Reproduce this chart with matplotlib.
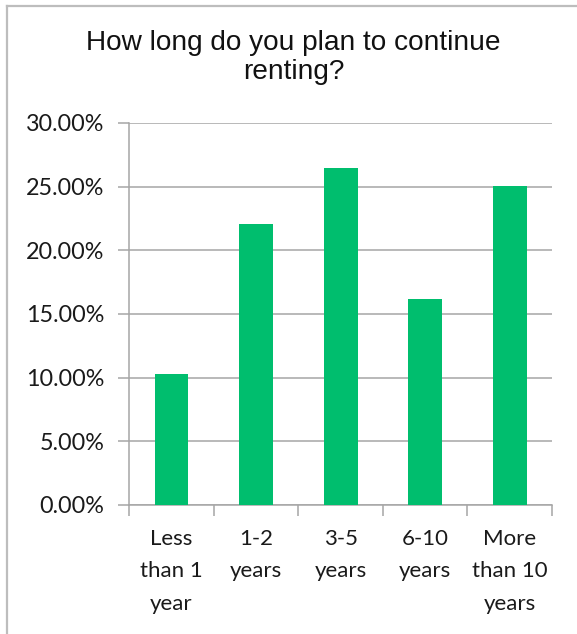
import numpy as np
import matplotlib.pyplot as plt
from matplotlib.lines import Line2D
from matplotlib.ticker import FuncFormatter, MultipleLocator

# survey answers: share of renters per planned renting period
categories = ['Less\nthan 1\nyear', '1-2\nyears', '3-5\nyears', '6-10\nyears', 'More\nthan 10\nyears']
shares = [10.27, 22.07, 26.49, 16.15, 25.03]

bar_color = '#00BE6E'
grid_color = '#A6A6A6'

fig = plt.figure(figsize=(5.77, 6.34), dpi=100)
ax = fig.add_axes([0.2241, 0.2035, 0.7326, 0.6025])

x = np.arange(len(categories))
ax.bar(x, shares, width=0.4, color=bar_color, zorder=3)

ax.set_xlim(-0.5, len(categories) - 0.5)
ax.set_ylim(0, 30)
ax.yaxis.set_major_locator(MultipleLocator(5))
ax.yaxis.set_major_formatter(FuncFormatter(lambda v, _: f'{v:.2f}%'))
ax.grid(axis='y', color=grid_color, linewidth=1.1, zorder=0)

# category ticks sit on the boundaries between bars
ax.set_xticks(np.arange(-0.5, len(categories), 1.0))
ax.set_xticklabels([])
ax.set_xticks(x, minor=True)
ax.set_xticklabels(categories, minor=True, fontfamily='Lato', fontsize=16,
                   linespacing=1.76, color='#1a1a1a')
ax.tick_params(axis='x', which='minor', length=0, pad=17.5)
ax.tick_params(axis='x', which='major', length=8, color=grid_color, width=1.1)
ax.tick_params(axis='y', length=8, color=grid_color, width=1.1, pad=10,
               labelsize=16.8, labelcolor='#1a1a1a')
for lbl in ax.get_yticklabels():
    lbl.set_fontfamily('Lato')

for side in ['top', 'right']:
    ax.spines[side].set_visible(False)
for side in ['left', 'bottom']:
    ax.spines[side].set_color(grid_color)
    ax.spines[side].set_linewidth(1.1)

fig.text(0.509, 0.953, 'How long do you plan to continue\nrenting?',
         ha='center', va='top', fontfamily='Liberation Sans', fontsize=20.2,
         linespacing=1.17, color='#111111')

# chart frame, only its top and left edges fall inside the image
fig.add_artist(Line2D([6.5 / 577, 1.0], [1 - 5.5 / 634, 1 - 5.5 / 634],
                      transform=fig.transFigure, color='#BDBDBD', linewidth=1.6))
fig.add_artist(Line2D([6.5 / 577, 6.5 / 577], [0.0, 1 - 5.5 / 634],
                      transform=fig.transFigure, color='#BDBDBD', linewidth=1.6))

fig.savefig('out.png', dpi=100)
